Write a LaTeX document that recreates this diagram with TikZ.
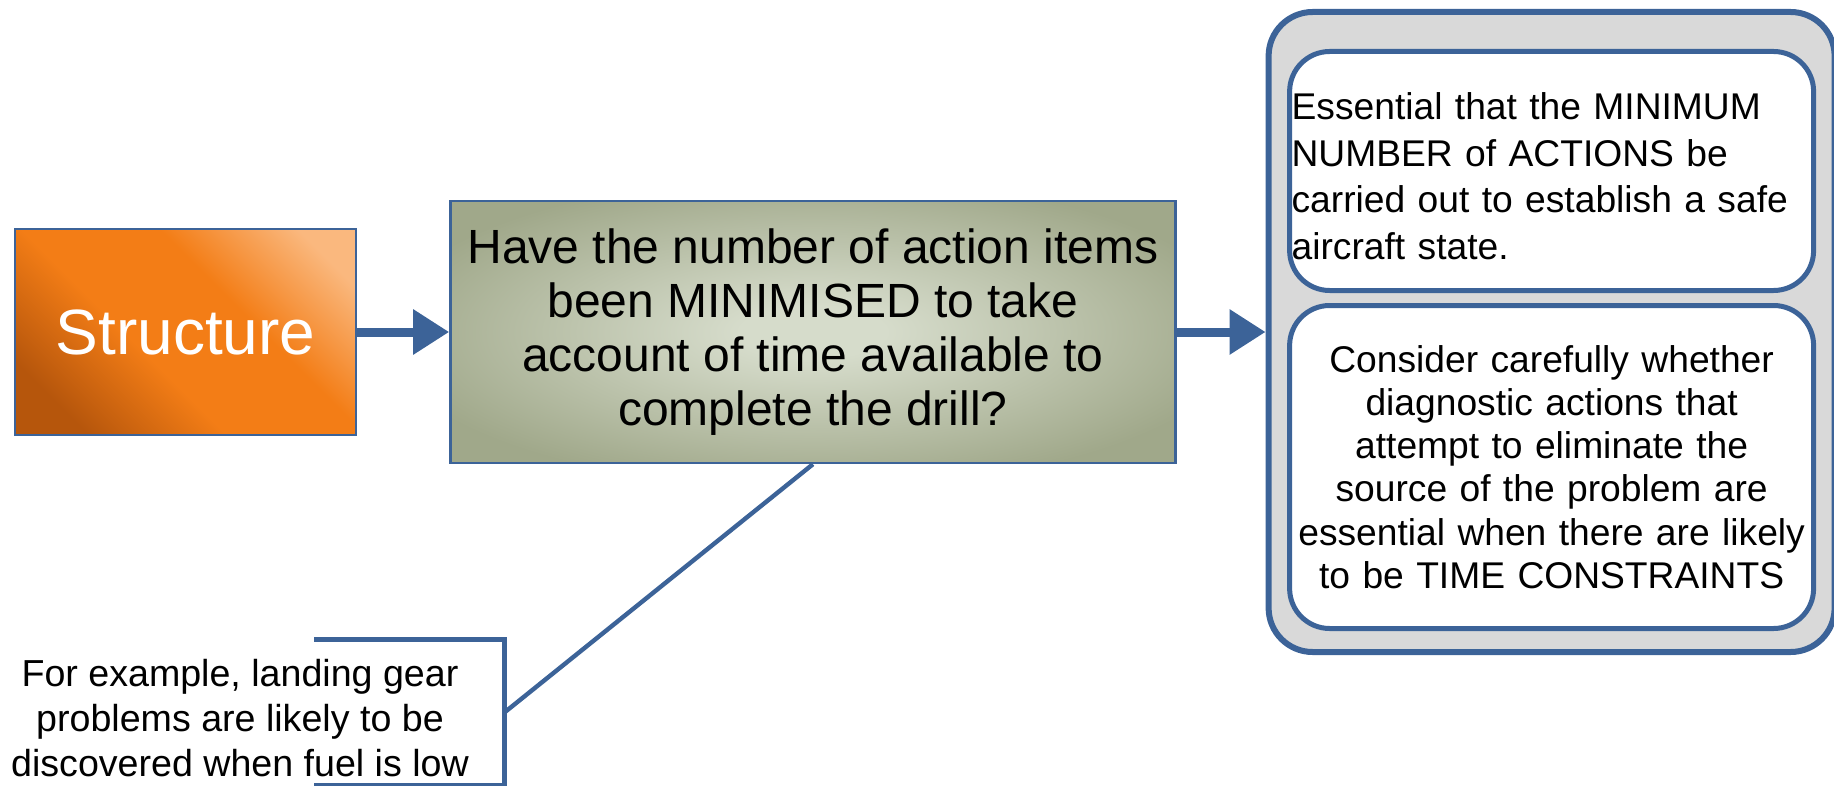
\documentclass[tikz,border=0pt]{standalone}
\usepackage{fontspec}
\setmainfont{Liberation Sans}
\usetikzlibrary{positioning,arrows.meta}
\definecolor{linkblue}{RGB}{60,99,152}
\definecolor{orangedark}{RGB}{182,86,12}
\definecolor{orangemid}{RGB}{243,125,22}
\definecolor{orangelight}{RGB}{250,184,126}
\definecolor{olivelight}{RGB}{214,220,203}
\definecolor{olivedark}{RGB}{160,168,138}
\definecolor{panelgrey}{RGB}{217,217,217}
\pgfdeclareverticalshading{structureshade}{100bp}{color(0bp)=(orangedark); color(24bp)=(orangedark); color(42bp)=(orangemid); color(60bp)=(orangemid); color(78bp)=(orangelight); color(100bp)=(orangelight)}
\pgfdeclareradialshading{questionshade}{\pgfpoint{0bp}{0bp}}{color(0bp)=(olivelight); color(5bp)=(olivelight); color(30bp)=(olivedark); color(50bp)=(olivedark)}
\begin{document}
\begin{tikzpicture}[
  x=0.5pt, y=-0.5pt,
  topic/.style={draw=linkblue, line width=1.2pt, shading=structureshade, shading angle=-45, text=white, minimum width=170.5pt, minimum height=103pt, font=\fontsize{32}{36}\selectfont},
  askbox/.style={draw=linkblue, line width=1.2pt, shading=questionshade, align=center, minimum width=362.5pt, minimum height=131pt, font=\fontsize{24}{27}\selectfont},
  panel/.style={draw=linkblue, line width=3pt, fill=panelgrey, rounded corners=22pt, minimum width=283pt, minimum height=320pt},
  note/.style={draw=linkblue, line width=2.5pt, fill=white, rounded corners=20pt, inner sep=1pt, text width=260pt},
  callout/.style={align=center, minimum width=264pt, minimum height=72.5pt, font=\fontsize{18.8}{22.4}\selectfont},
  arrow/.style={-{Triangle[length=18pt, width=21.5pt]}, line width=4.5pt, draw=linkblue},
  leader/.style={draw=linkblue, line width=2.2pt}
]
\useasboundingbox (0,0) rectangle (1834,786);
\node[topic] (structure) at (185.5,332) {Structure};
\node[askbox, right=46pt of structure] (question) {Have the number of action items\\been MINIMISED to take\\account of time available to\\complete the drill?};
\node[panel, right=44.5pt of question] (panel) {};
\node[note, align=left, minimum height=119.5pt, text depth=64.6pt, anchor=north, font=\fontsize{18.6}{23.2}\selectfont] (essential) at ([yshift=-20pt]panel.north) {Essential that the MINIMUM\\NUMBER of ACTIONS be\\carried out to establish a safe\\aircraft state.};
\node[note, align=center, minimum height=161.5pt, below=5pt of essential, font=\fontsize{18.6}{21.6}\selectfont] (consider) {Consider carefully whether\\diagnostic actions that\\attempt to eliminate the\\source of the problem are\\essential when there are likely\\to be TIME CONSTRAINTS};
\node[callout] (example) at (240,718) {For example, landing gear\\problems are likely to be\\discovered when fuel is low};

\draw[arrow] (structure) -- (question);
\draw[arrow] (question) -- (panel);
\draw[leader] (question.south) -- ([yshift=2.75pt]example.east);
\draw[leader] ([shift={(-95pt,2.75pt)}]example.north east) -- ([yshift=2.75pt]example.north east) -- ([yshift=2.75pt]example.south east) -- ([shift={(-95pt,2.75pt)}]example.south east);
\end{tikzpicture}
\end{document}
